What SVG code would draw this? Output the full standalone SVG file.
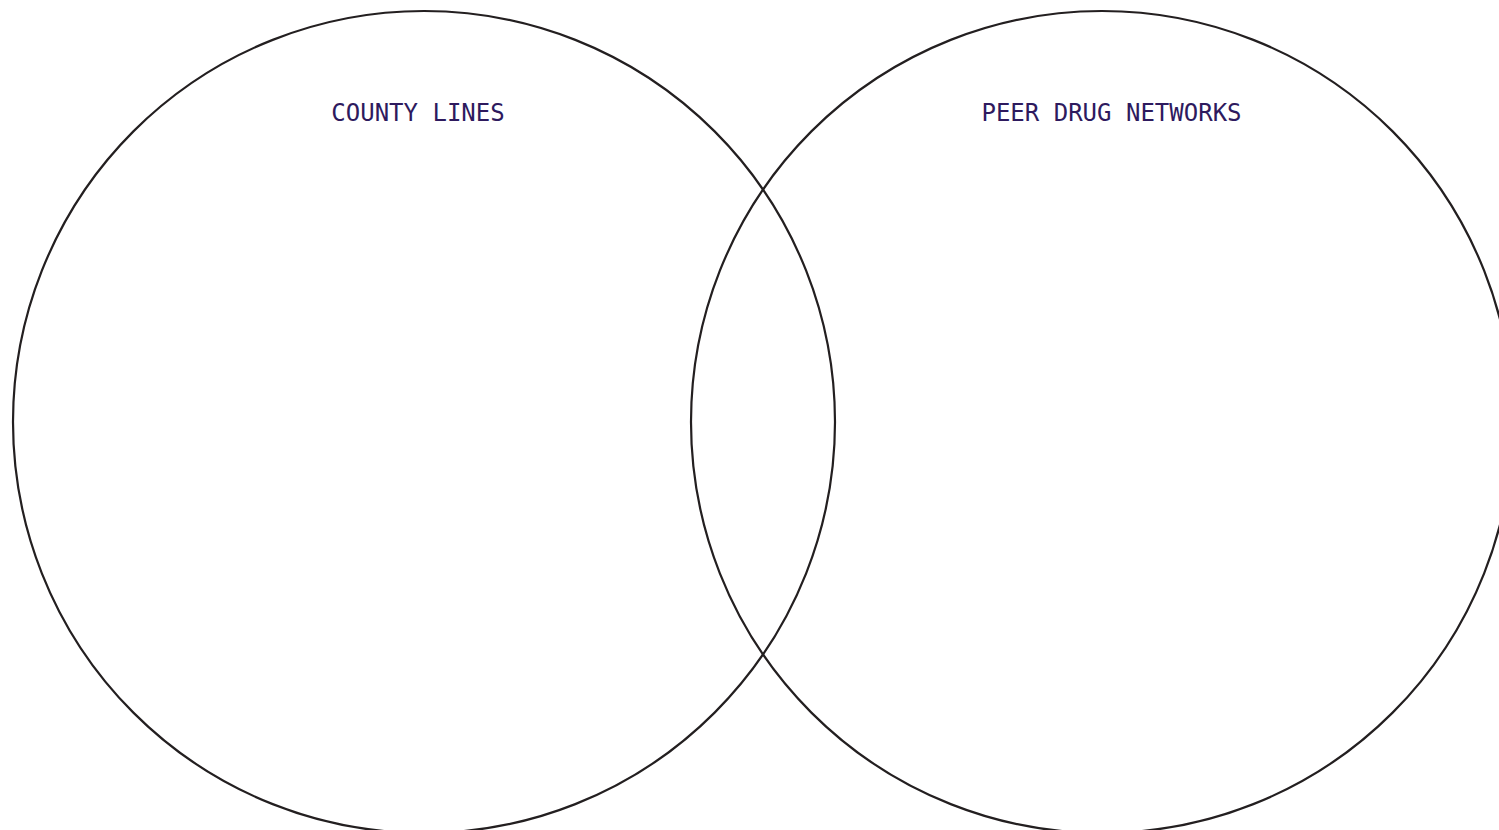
<svg xmlns="http://www.w3.org/2000/svg" width="1499" height="830" viewBox="0 0 1499 830">
<style>
.c{fill:none;stroke:#231f20;stroke-width:2.2}
.t{font-family:"DejaVu Sans Mono",monospace;font-size:24px;fill:#2e1a5e;text-anchor:middle}
</style>
<rect width="1499" height="830" fill="#fff"/>
<g id="set-county-lines">
<circle class="c" cx="424" cy="422" r="411"/>
<text class="t" x="418" y="121">COUNTY LINES</text>
</g>
<g id="set-peer-drug-networks">
<circle class="c" cx="1102" cy="422" r="411"/>
<text class="t" x="1111.5" y="121">PEER DRUG NETWORKS</text>
</g>
<g id="connectors"></g>
</svg>
